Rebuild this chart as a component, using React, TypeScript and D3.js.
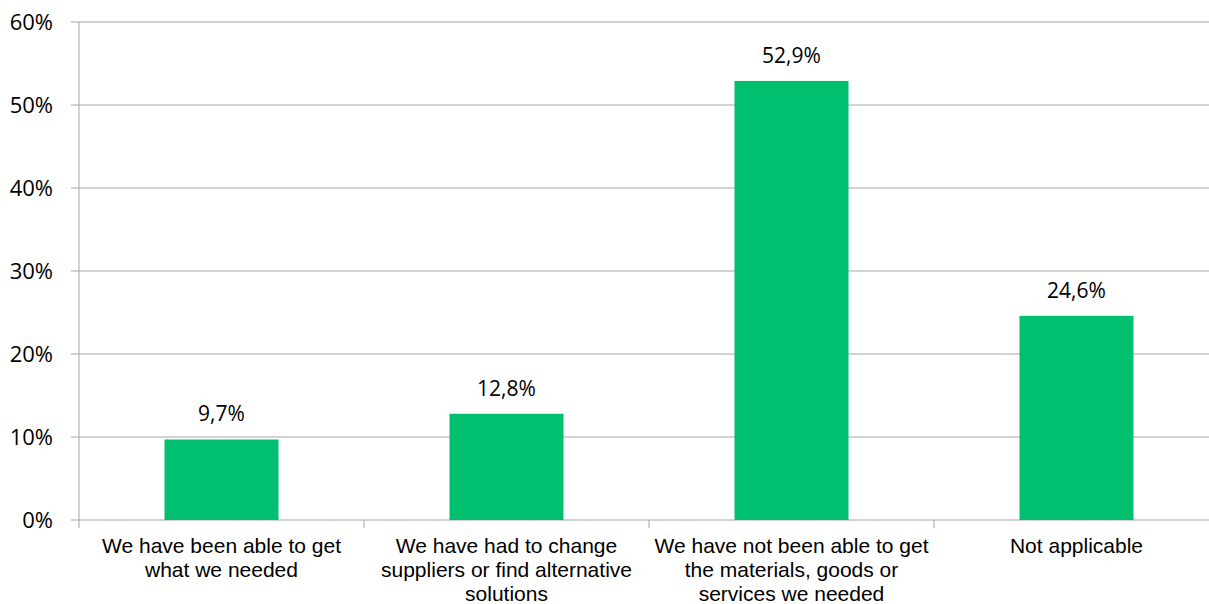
import React from "react";
import * as d3 from "d3";

const categories = [
  "We have been able to get what we needed",
  "We have had to change suppliers or find alternative solutions",
  "We have not been able to get the materials, goods or services we needed",
  "Not applicable",
];
const categoryLines = [
  ["We have been able to get", "what we needed"],
  ["We have had to change", "suppliers or find alternative", "solutions"],
  ["We have not been able to get", "the materials, goods or", "services we needed"],
  ["Not applicable"],
];
const values = [9.7, 12.8, 52.9, 24.6];
const valueLabels = ["9,7%", "12,8%", "52,9%", "24,6%"];
const yTicks = [0, 10, 20, 30, 40, 50, 60];

const W = 1209;
const H = 604;
const left = 79;
const right = 1219;
const top = 22;
const bottom = 520;

export default function App() {
  const x = d3.scaleBand<string>().domain(categories).range([left, right]).paddingInner(0.6).paddingOuter(0.3);
  const xb = d3.scaleBand<string>().domain(categories).range([left, right]);
  const y = d3.scaleLinear().domain([0, 60]).range([bottom, top]);
  const grid = "#a6a6a6";
  const green = "#00bf6f";
  const numFont = "'Open Sans', Lato, sans-serif";
  return (
    <svg width={W} height={H} style={{ position: "absolute", left: 0, top: 0 }}>
      <rect width={W} height={H} fill="#fff" />
      {yTicks.map((t) => (
        <g key={t}>
          <line x1={left - 8} x2={right} y1={y(t)} y2={y(t)} stroke={grid} strokeWidth={1} />
          <text x={left - 26} y={y(t) + 8} textAnchor="end" fontFamily={numFont} fontSize={22} fill="#000">
            {t}%
          </text>
        </g>
      ))}
      <line x1={left} x2={left} y1={top} y2={bottom + 8} stroke={grid} strokeWidth={1} />
      {categories.map((c) => (
        <line key={"t" + c} x1={(xb(c) as number) + xb.bandwidth()} x2={(xb(c) as number) + xb.bandwidth()} y1={bottom} y2={bottom + 8} stroke={grid} strokeWidth={1} />
      ))}
      {categories.map((c, i) => (
        <g key={c}>
          <rect x={x(c)} y={y(values[i])} width={x.bandwidth()} height={bottom - y(values[i])} fill={green} />
          <text x={(x(c) as number) + x.bandwidth() / 2} y={y(values[i]) - 18} textAnchor="middle" fontFamily={numFont} fontSize={21} fill="#000">
            {valueLabels[i]}
          </text>
          {categoryLines[i].map((ln, j) => (
            <text key={j} x={(xb(c) as number) + xb.bandwidth() / 2} y={553 + j * 24} textAnchor="middle" fontFamily="'Liberation Sans', Arial, sans-serif" fontSize={21} fill="#000">
              {ln}
            </text>
          ))}
        </g>
      ))}
    </svg>
  );
}
